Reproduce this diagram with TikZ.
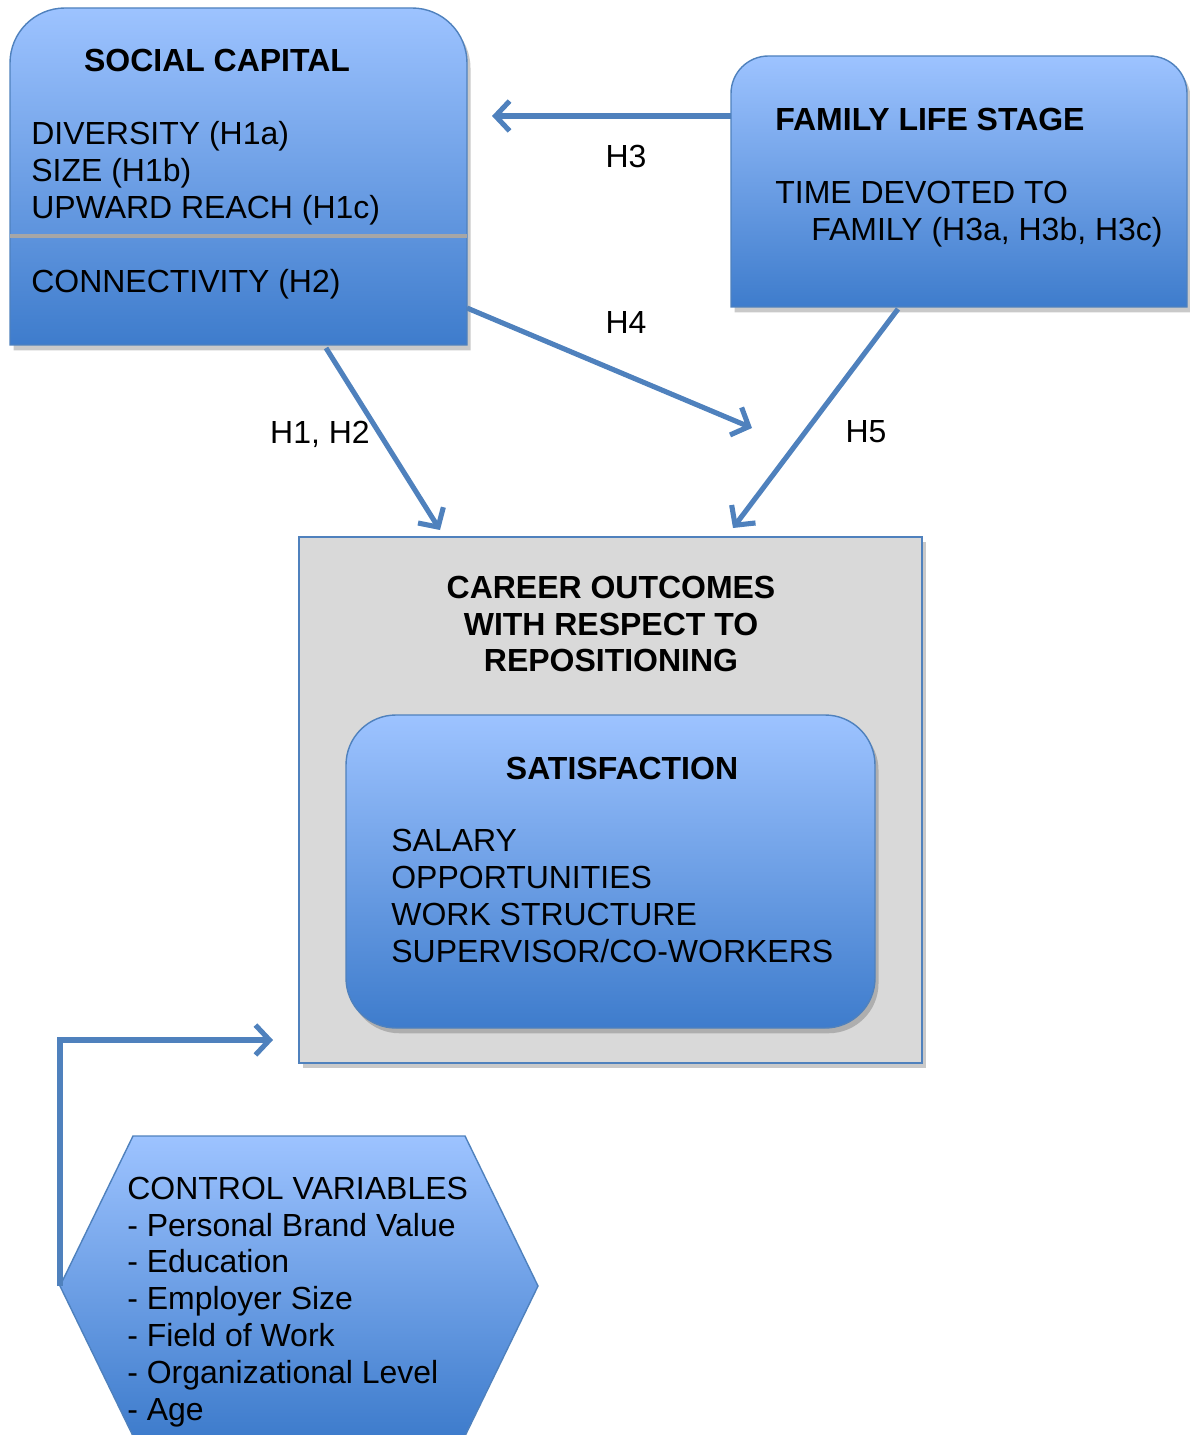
\documentclass[tikz,border=0pt]{standalone}
\usepackage{fontspec}
\setmainfont{Liberation Sans}
\usepackage{tikz}
\usetikzlibrary{arrows.meta,calc,fit,shadows}
\definecolor{linkblue}{RGB}{79,129,189}
\definecolor{shadetop}{RGB}{157,195,255}
\definecolor{shadebot}{RGB}{62,124,204}
\definecolor{panelgray}{RGB}{217,217,217}
\definecolor{rulegray}{RGB}{166,166,166}
\tikzset{every node/.style={align=left,inner sep=0pt,font=\fontsize{18.2}{21}\selectfont},
  frame/.style={inner sep=0pt,outer sep=0pt},
  bluefill/.style={top color=shadetop,bottom color=shadebot,draw=linkblue,line width=0.8pt},
  softshadow/.style={drop shadow={shadow xshift=2pt,shadow yshift=-3pt,opacity=0.3,fill=black!70}},
  link/.style={draw=linkblue,line width=2.9pt,-{Straight Barb[length=8pt,width=17pt]}},
  title/.style={font=\fontsize{18.2}{21}\selectfont\bfseries}}

\begin{document}
\begin{tikzpicture}[x=0.02cm,y=-0.02cm]
        \useasboundingbox (0,0) rectangle (1189,1435);

        % box outlines
        \node[frame,fit={(10,8) (467,345)}] (social) {};
        \node[frame,fit={(731,56) (1187,307)}] (family) {};
        \node[frame,fit={(299,537) (922,1063)}] (career) {};
        \node[frame,fit={(346,715) (875,1028)}] (satis) {};
        \node[frame,fit={(60,1136) (538,1436)}] (control) {};

        % social capital
        \shade[bluefill,softshadow] (social.south west) [rounded corners=1.1cm] -- (social.north west) -- (social.north east) [sharp corners] -- (social.south east) -- cycle;
        \draw[rulegray,line width=2.2pt] (social.west |- 0,236) -- (social.east |- 0,236);
        \node[title] (socialtitle) at (217,60) {SOCIAL CAPITAL};
        \node[anchor=west] (socialdims) at (31,173) {DIVERSITY (H1a)\\SIZE (H1b)\\UPWARD REACH (H1c)};
        \node[anchor=west] (connect) at (31,284) {CONNECTIVITY (H2)};

        % family life stage
        \shade[bluefill,softshadow] (family.south west) [rounded corners=0.75cm] -- (family.north west) -- (family.north east) [sharp corners] -- (family.south east) -- cycle;
        \node[title,anchor=west] (familytitle) at (775,119) {FAMILY LIFE STAGE};
        \node[anchor=west] (familytime) at (775,214) {TIME DEVOTED TO\\\hspace*{0.72cm}FAMILY (H3a, H3b, H3c)};

        % career outcomes
        \fill[panelgray,draw=linkblue,line width=0.8pt,softshadow] (career.south west) rectangle (career.north east);
        \node[title,align=center] (careertitle) at (611,624) {CAREER OUTCOMES\\WITH RESPECT TO\\REPOSITIONING};
        \shade[bluefill,softshadow,rounded corners=1cm] (satis.south west) rectangle (satis.north east);
        \node[title] (satistitle) at (622,768) {SATISFACTION};
        \node[anchor=west] (satisitems) at (391,896) {SALARY\\OPPORTUNITIES\\WORK STRUCTURE\\SUPERVISOR/CO-WORKERS};

        % control variables
        \shade[bluefill] (control.west) -- ($(control.north west)+(73,0)$) -- ($(control.north east)+(-73,0)$) -- (control.east) -- ($(control.south east)+(-73,0)$) -- ($(control.south west)+(73,0)$) -- cycle;
        \node[anchor=west] (controlitems) at (127,1302) {CONTROL VARIABLES\\- Personal Brand Value\\- Education\\- Employer Size\\- Field of Work\\- Organizational Level\\- Age};

        % free arrow ends
        \coordinate (h3end) at (492,116);
        \coordinate (h4end) at (752,428);
        \coordinate (ctlend) at (273,1040);

        % family to social capital
        \draw[link] (family.west |- h3end) -- (h3end);
        \node (h3) at (626,156) {H3};

        % social capital to the gap
        \draw[link] ($(social.south east)+(0,-37)$) -- (h4end);
        \node (h4) at (626,323) {H4};

        % social capital to career outcomes
        \draw[link] ($(social.south)+(87.5,3)$) -- ($(career.north west)+(141,-7)$);
        \node (h12) at (320,434) {H1, H2};

        % family to career outcomes
        \draw[link] ($(family.south)+(-61,2)$) -- ($(career.north)+(122.5,-9)$);
        \node (h5) at (866,432) {H5};

        % controls to career outcomes
        \draw[link] (control.west) |- (ctlend);

    \end{tikzpicture}
\end{document}
